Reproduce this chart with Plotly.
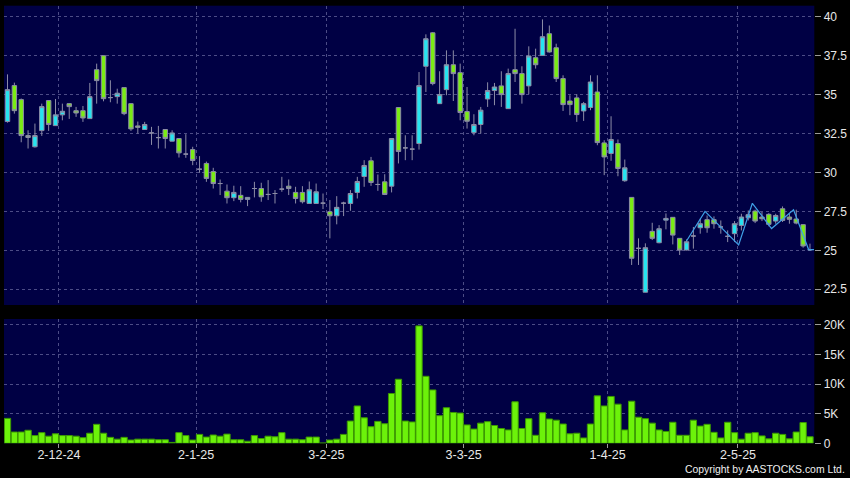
import plotly.graph_objects as go

# ---- data ----
opens = [33.27, 35.58, 34.68, 32.37, 31.65, 32.69, 34.62, 33.01, 33.70, 34.42,
         33.97, 33.97, 33.46, 36.60, 37.50, 34.81, 34.87, 35.45, 34.42, 32.99,
         32.76, 32.54, 32.24, 32.76, 32.01, 32.18, 31.18, 31.47, 30.21, 30.58,
         30.06, 29.29, 28.80, 28.38, 28.53, 28.27, 28.97, 28.97, 28.59, 28.65,
         28.93, 29.12, 28.72, 28.72, 28.01, 28.01, 28.03, 27.48, 27.22, 28.03,
         28.01, 28.72, 29.74, 30.75, 29.23, 29.40, 29.12, 34.17, 31.58, 31.50,
         31.86, 36.82, 38.97, 34.42, 35.32, 36.92, 36.41, 33.91, 32.56, 33.08,
         34.72, 35.26, 35.56, 34.10, 36.60, 36.35, 35.56, 37.37, 37.52, 38.91,
         38.01, 36.03, 34.59, 34.79, 33.95, 34.17, 35.17, 31.90, 31.22, 31.86,
         29.47, 28.40, 25.13, 22.31, 26.22, 25.49, 26.94, 27.12, 25.77, 25.02,
         25.92, 26.45, 26.97, 26.97, 26.50, 25.90, 26.07, 26.60, 27.09, 27.52,
         27.14, 27.31, 26.88, 27.67, 27.14, 27.01, 26.65, 25.04]
highs = [36.30, 35.77, 34.75, 32.71, 33.14, 34.42, 34.65, 34.72, 34.42, 34.45,
         34.21, 34.27, 35.75, 36.99, 37.52, 35.92, 35.38, 35.47, 34.45, 33.27,
         33.25, 32.93, 32.99, 32.78, 32.71, 32.20, 32.46, 31.65, 31.05, 30.70,
         30.30, 29.55, 29.23, 29.15, 29.12, 28.42, 29.40, 29.34, 29.51, 28.87,
         29.72, 29.55, 29.08, 29.12, 29.42, 29.29, 28.65, 28.23, 28.48, 28.12,
         28.87, 29.72, 30.79, 31.00, 29.87, 29.89, 32.20, 34.20, 32.39, 32.39,
         36.45, 38.87, 39.02, 36.50, 37.84, 37.84, 36.99, 35.49, 33.74, 34.21,
         35.79, 35.75, 36.50, 36.67, 39.23, 36.82, 38.10, 37.95, 39.83, 39.44,
         38.27, 36.24, 34.96, 35.02, 34.53, 36.24, 36.24, 32.07, 33.61, 32.12,
         30.83, 28.42, 25.77, 25.45, 26.77, 26.62, 27.37, 27.14, 25.79, 25.70,
         26.50, 27.03, 27.24, 27.18, 26.92, 26.28, 26.88, 27.35, 27.56, 27.61,
         27.46, 27.39, 27.35, 27.82, 27.35, 27.61, 26.67, 25.43]
lows = [33.20, 33.78, 31.94, 31.54, 31.60, 32.35, 32.67, 33.00, 33.35, 33.44,
        33.57, 33.25, 33.44, 34.42, 34.57, 34.51, 34.42, 33.68, 32.67, 32.50,
        32.74, 31.77, 31.54, 31.54, 32.00, 30.96, 30.94, 30.47, 29.98, 29.40,
        28.97, 28.55, 28.01, 28.16, 28.08, 27.84, 28.40, 28.12, 28.23, 28.01,
        28.76, 28.55, 28.01, 28.01, 28.00, 28.00, 27.65, 25.77, 26.67, 27.20,
        27.54, 28.33, 29.08, 29.14, 28.82, 28.55, 28.72, 30.58, 30.79, 30.79,
        31.47, 35.17, 35.60, 34.40, 34.96, 34.59, 33.35, 32.82, 32.39, 32.50,
        34.21, 34.32, 34.21, 34.08, 35.81, 34.42, 35.02, 36.67, 37.50, 37.70,
        35.81, 33.95, 33.68, 33.25, 33.31, 34.00, 31.75, 29.83, 30.75, 29.76,
        29.40, 24.06, 24.06, 22.30, 25.66, 25.45, 26.35, 25.38, 24.70, 25.00,
        25.11, 26.07, 26.13, 26.39, 26.07, 25.53, 25.53, 26.28, 26.92, 26.75,
        26.88, 26.54, 26.71, 26.82, 26.71, 26.67, 25.17, 24.96]
closes = [35.32, 33.97, 32.37, 32.25, 32.37, 34.23, 33.08, 33.70, 33.93, 34.23,
          33.82, 33.50, 34.87, 35.90, 34.74, 34.81, 35.09, 33.78, 32.80, 32.90,
          33.08, 32.54, 32.24, 32.18, 32.54, 31.26, 31.18, 30.77, 30.21, 29.62,
          29.29, 29.29, 28.38, 28.72, 28.27, 28.40, 28.97, 28.44, 28.59, 28.65,
          28.93, 28.97, 28.33, 28.12, 28.89, 28.76, 28.03, 27.22, 27.76, 28.03,
          28.65, 29.42, 30.45, 29.36, 29.23, 28.59, 32.18, 31.35, 31.58, 31.50,
          35.58, 38.59, 35.71, 35.00, 36.92, 36.35, 33.85, 33.29, 33.08, 34.00,
          35.26, 35.49, 35.00, 36.35, 36.35, 35.00, 37.48, 36.92, 38.72, 37.74,
          36.03, 34.36, 34.36, 33.72, 34.42, 35.81, 31.92, 31.00, 32.12, 30.26,
          30.30, 24.49, 25.13, 25.17, 25.77, 26.39, 27.05, 25.98, 25.02, 25.55,
          25.92, 26.71, 26.45, 26.71, 26.50, 25.90, 26.71, 27.14, 27.29, 26.88,
          27.03, 26.67, 27.24, 26.92, 26.99, 26.75, 25.28, 25.04]
volumes = [4200, 1900, 1900, 2200, 1300, 1800, 1200, 1600, 1300, 1300,
           1200, 950, 1700, 3200, 1700, 1000, 700, 1000, 550, 700,
           700, 700, 600, 600, 150, 1800, 1300, 550, 1500, 1050,
           1400, 1200, 1550, 600, 600, 350, 1300, 800, 1200, 1100,
           1800, 700, 700, 600, 1050, 1050, 50, 550, 700, 1500,
           3750, 6300, 4300, 2800, 3700, 3300, 8400, 10800, 3750, 3600,
           19800, 11300, 9000, 4650, 6000, 5200, 5100, 3100, 2400, 3400,
           3650, 3000, 2500, 2250, 7000, 2500, 4150, 1350, 5150, 4100,
           3900, 3250, 1600, 1700, 900, 3250, 8000, 6300, 7900, 6600,
           2250, 7100, 4400, 4150, 3400, 2250, 2000, 3550, 1350, 1350,
           3900, 2900, 3200, 1850, 900, 3550, 1800, 700, 1700, 1800,
           1250, 750, 1700, 1500, 750, 1900, 3500, 1100]

# thin blue line over the latest sessions
line_x = [99.0, 101.7, 106.6, 108.6, 111.4, 114.6, 116.8, 117.6]
line_y = [25.6, 27.5, 25.35, 28.02, 26.4, 27.6, 25.05, 25.05]

# month labels and index of first session of each month
month_labels = ["2-12-24", "2-1-25", "3-2-25", "3-3-25", "1-4-25", "2-5-25"]
month_first_idx = [8, 28, 47, 67, 88, 107]

price_ticks = [22.5, 25, 27.5, 30, 32.5, 35, 37.5, 40]
price_labels = ["22.5", "25", "27.5", "30", "32.5", "35", "37.5", "40"]
vol_ticks = [0, 5000, 10000, 15000, 20000]
vol_labels = ["0", "5K", "10K", "15K", "20K"]

x = list(range(len(closes)))
month_pos = [i - 0.5 for i in month_first_idx]

CYAN = "#26e4f0"
GREEN = "#7aec14"
WICK = "#8c8ca6"
GRID = "#4c4c86"
BG = "#000044"
TXT = "#e8e8e8"
FONT = "Liberation Sans"

fig = go.Figure()
fig.add_trace(go.Candlestick(
    x=x, open=opens, high=highs, low=lows, close=closes,
    increasing=dict(fillcolor=CYAN, line=dict(color=WICK, width=1)),
    decreasing=dict(fillcolor=GREEN, line=dict(color=WICK, width=1)),
    whiskerwidth=0, showlegend=False, hoverinfo="skip",
    xaxis="x", yaxis="y"))
fig.add_trace(go.Scatter(
    x=line_x, y=line_y, mode="lines",
    line=dict(color="#3f9fe6", width=1.2),
    showlegend=False, hoverinfo="skip", xaxis="x", yaxis="y"))
fig.add_trace(go.Bar(
    x=x, y=volumes, marker=dict(color="#6cf20a", line=dict(color="#3c9a00", width=1)),
    showlegend=False, hoverinfo="skip", xaxis="x2", yaxis="y2"))

xr = [-0.51, 117.63]
grid_common = dict(showgrid=True, gridcolor=GRID, griddash="3px,3px", gridwidth=1,
                   zeroline=False, showline=False, automargin=False)

fig.update_layout(
    template="none",
    width=850, height=478,
    margin=dict(l=0, r=0, t=0, b=0, pad=0),
    paper_bgcolor="#000000", plot_bgcolor=BG,
    bargap=0.08, boxgap=0.08,
    font=dict(family=FONT, size=12, color=TXT),
    xaxis=dict(domain=[4 / 850, 814.3 / 850], range=xr, anchor="y",
               tickmode="array", tickvals=month_pos, showticklabels=False,
               ticks="", rangeslider=dict(visible=False), **grid_common),
    yaxis=dict(domain=[1 - 305 / 478, 1 - 5.7 / 478], range=[21.49, 40.71],
               side="right", anchor="x", tickmode="array", tickvals=price_ticks,
               ticktext=price_labels, ticks="outside", ticklen=6, tickcolor="#9a9a9a",
               tickfont=dict(size=12, color=TXT), **grid_common),
    xaxis2=dict(domain=[4 / 850, 814.3 / 850], range=xr, anchor="y2",
                tickmode="array", tickvals=month_pos, ticktext=month_labels,
                ticks="outside", ticklen=4, tickcolor="#9a9a9a", ticklabelstandoff=-4,
                tickfont=dict(size=12.5, color=TXT), **grid_common),
    yaxis2=dict(domain=[1 - 443.3 / 478, 1 - 319 / 478], range=[0, 20960],
                side="right", anchor="x2", tickmode="array", tickvals=vol_ticks,
                ticktext=vol_labels, ticks="outside", ticklen=6, tickcolor="#9a9a9a",
                tickfont=dict(size=12, color=TXT), **grid_common),
    annotations=[dict(text="Copyright by AASTOCKS.com Ltd.", xref="paper", yref="paper",
                      x=847 / 850, y=1 / 478, xanchor="right", yanchor="bottom",
                      showarrow=False, font=dict(size=10.4, color="#f0f0f0", family=FONT))],
)

fig.write_html("out.html",
               config={"displayModeBar": False, "responsive": False},
               post_script="document.body.style.margin='0';document.body.style.overflow='hidden';")
